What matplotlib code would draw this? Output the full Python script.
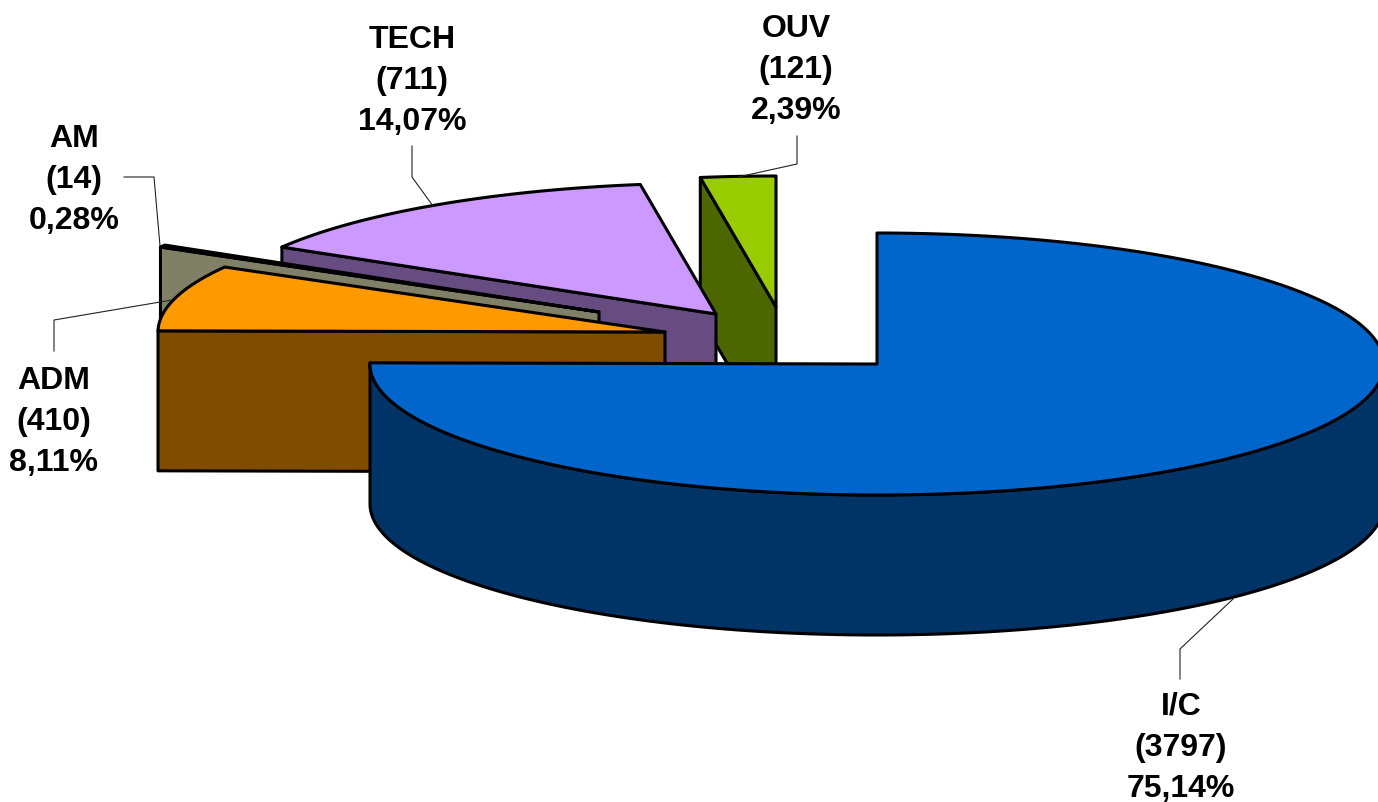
import matplotlib
matplotlib.use("Agg")
import matplotlib.pyplot as plt
import numpy as np
from matplotlib.patches import Polygon

# clockwise from 12 o'clock
names = ["I/C", "ADM", "AM", "TECH", "OUV"]
counts = [3797, 410, 14, 711, 121]

top_colors = ["#0066CC", "#FF9900", "#000000", "#CC99FF", "#99CC00"]
side_colors = ["#003366", "#804C00", "#808066", "#664C80", "#4C6600"]

# where each exploded slice has its tip, in pixels
tips = [(877, 364), (665, 332), (599, 312), (716, 314), (776, 307)]
radii_x = [507, 507, 505, 505, 505]
ry, depth = 131, 140

label_x = [1181, 54, 74, 412, 796]
label_y = [706, 380, 138, 39, 28]
line_gap = 41

leaders = [
    [(1233, 599), (1180, 649), (1180, 679)],
    [(172, 300), (54, 320), (54, 351)],
    [(160, 246), (154, 177), (124, 177)],
    [(433, 206), (412, 177), (412, 146)],
    [(738, 177), (797, 164), (797, 136)],
]

total = sum(counts)
ends = np.cumsum(counts) / total * 360.0
starts = ends - np.array(counts) / total * 360.0


def rim(tip, rx, a, b):
    t = np.radians(np.linspace(a, b, 200))
    return np.column_stack((tip[0] + rx * np.sin(t), tip[1] - ry * np.cos(t)))


fig = plt.figure(figsize=(13.78, 8.03), dpi=100)
ax = fig.add_axes([0, 0, 1, 1])
ax.set_xlim(0, 1378)
ax.set_ylim(802, -1)
ax.axis("off")

edge = dict(edgecolor="black", linewidth=2.2, joinstyle="round")
down = np.array([0, depth])

# back slices first, the big one goes on top of them
for i in [4, 3, 2, 1, 0]:
    tip = np.array(tips[i], dtype=float)
    arc = rim(tip, radii_x[i], starts[i], ends[i])
    if i == 0:
        front = rim(tip, radii_x[i], 90, ends[i])
        side = np.vstack((front, front[::-1] + down))
    else:
        side = np.vstack((arc[0], tip, tip + down, arc[0] + down))
    ax.add_patch(Polygon(side, closed=True, facecolor=side_colors[i], **edge))
    ax.add_patch(Polygon(np.vstack((tip, arc)), closed=True, facecolor=top_colors[i], **edge))

for pts in leaders:
    xs, ys = zip(*pts)
    ax.plot(xs, ys, color="#222222", lw=0.8)

for i, name in enumerate(names):
    pct = f"{counts[i] / total * 100:.2f}%".replace(".", ",")
    for j, line in enumerate([name, f"({counts[i]})", pct]):
        ax.text(label_x[i], label_y[i] + j * line_gap, line, ha="center", va="center",
                family="Liberation Sans", fontweight="bold", fontsize=23, color="black")

fig.savefig("out.png", dpi=100)
